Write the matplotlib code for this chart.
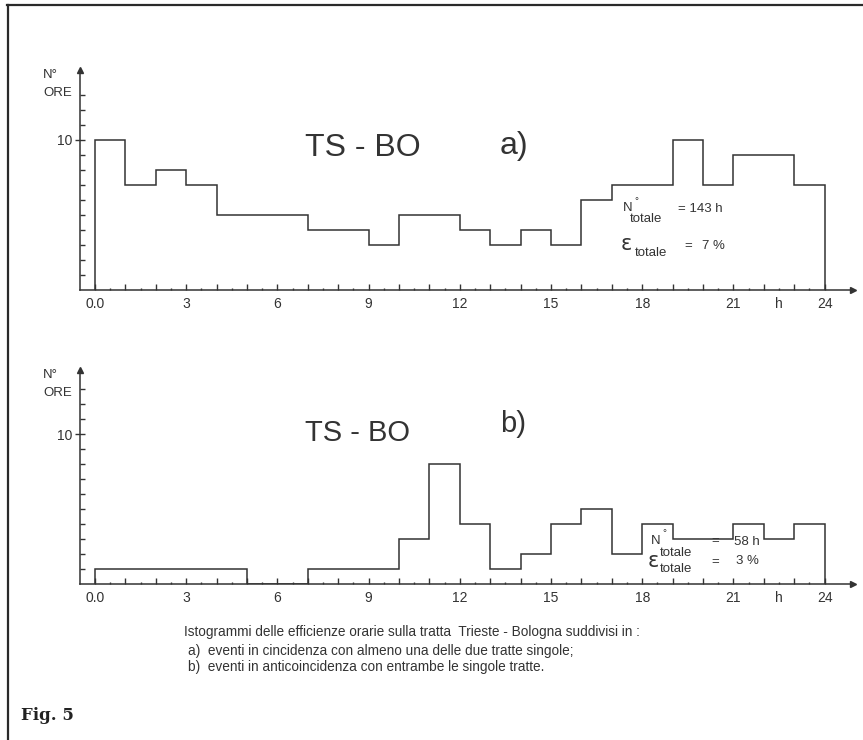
import matplotlib
matplotlib.use("Agg")
import matplotlib.pyplot as plt
import numpy as np

# hourly bins 0..24
hour_edges = list(range(25))
hours_a = [10, 7, 8, 7, 5, 5, 5, 4, 4, 3, 5, 5,
           4, 3, 4, 3, 6, 7, 7, 10, 7, 9, 9, 7]
hours_b = [1, 1, 1, 1, 1, 0, 0, 1, 1, 1, 3, 8,
           4, 1, 2, 4, 5, 2, 4, 3, 3, 4, 3, 4]
xtick_labels = {0: "0.0", 3: "3", 6: "6", 9: "9", 12: "12",
                15: "15", 18: "18", 21: "21", 24: "24"}

W, H = 863, 740
INK = "#333333"
SANS = ["Liberation Sans", "DejaVu Sans"]
plt.rcParams["font.family"] = SANS

fig = plt.figure(figsize=(W / 100, H / 100), dpi=100)
fig.patch.set_facecolor("white")


def px_text(x, y, s, **kw):
    kw.setdefault("color", INK)
    kw.setdefault("va", "center")
    kw.setdefault("ha", "left")
    return fig.text(x / W, 1 - y / H, s, **kw)


def make_panel(top, bottom, values, letter, title_y, letter_y, title_fs):
    left_px, right_px = 80, 853
    x0_px, px_per_h = 95, 30.4
    ax = fig.add_axes([left_px / W, 1 - bottom / H,
                       (right_px - left_px) / W, (bottom - top) / H])
    ax.set_xlim((left_px - x0_px) / px_per_h, (right_px - x0_px) / px_per_h)
    ax.set_ylim(0, (bottom - top) / 15.0)
    ax.set_facecolor("none")

    ax.stairs(values, hour_edges, baseline=0, color=INK, lw=1.1)

    for s in ("top", "right"):
        ax.spines[s].set_visible(False)
    for s in ("left", "bottom"):
        ax.spines[s].set_color(INK)
        ax.spines[s].set_linewidth(1.1)
    # arrow heads on the axes
    ax.plot(1, 0, ">", color=INK, ms=5, transform=ax.get_yaxis_transform(), clip_on=False)
    ax.plot(0, 1, "^", color=INK, ms=5, transform=ax.transAxes, clip_on=False)

    ax.set_xticks(range(25))
    ax.set_xticklabels([xtick_labels.get(h, "") for h in range(25)])
    ax.set_xticks(np.arange(0.5, 24, 1), minor=True)
    ax.tick_params(axis="x", which="major", direction="in", length=4, width=1,
                   colors=INK, labelsize=10, pad=5)
    ax.tick_params(axis="x", which="minor", direction="in", length=1.5, width=1, colors=INK)

    ax.set_yticks([10])
    ax.set_yticklabels(["10"])
    ax.set_yticks([v for v in range(1, 14) if v != 10], minor=True)
    ax.tick_params(axis="y", which="major", direction="inout", length=7, width=1,
                   colors=INK, labelsize=10, pad=2)
    ax.tick_params(axis="y", which="minor", direction="in", length=3.6, width=1, colors=INK)

    # axis titles
    px_text(43, top + 5, "N°", fontsize=9.5)
    px_text(43, top + 23, "ORE", fontsize=9.5)
    px_text(775, bottom + 14, "h", fontsize=10)

    px_text(305, title_y, "TS - BO", fontsize=title_fs)
    px_text(500, letter_y, letter, fontsize=title_fs)
    return ax


make_panel(70, 290, hours_a, "a)", 148, 146, 23)
make_panel(370, 584, hours_b, "b)", 433, 424, 21)

# totals, panel a
px_text(623, 208, "N", fontsize=9.5)
px_text(634, 201, "°", fontsize=7)
px_text(630, 219, "totale", fontsize=9.5)
px_text(678, 209, "= 143 h", fontsize=9.5)
px_text(621, 244, "ε", fontsize=15, family=["DejaVu Sans"])
px_text(635, 253, "totale", fontsize=9.5)
px_text(684, 246, "=", fontsize=9.5)
px_text(702, 246, "7 %", fontsize=9.5)

# totals, panel b
px_text(651, 541, "N", fontsize=9.5)
px_text(662, 533, "°", fontsize=7)
px_text(660, 553, "totale", fontsize=9.5)
px_text(711, 541, "=", fontsize=9.5)
px_text(734, 542, "58 h", fontsize=9.5)
px_text(648, 561, "ε", fontsize=15, family=["DejaVu Sans"])
px_text(660, 569, "totale", fontsize=9.5)
px_text(711, 562, "=", fontsize=9.5)
px_text(736, 561, "3 %", fontsize=9.5)

# caption
px_text(184, 632, "Istogrammi delle efficienze orarie sulla tratta  Trieste - Bologna suddivisi in :",
        fontsize=9.8)
px_text(188, 651, "a)  eventi in cincidenza con almeno una delle due tratte singole;", fontsize=9.8)
px_text(188, 667, "b)  eventi in anticoincidenza con entrambe le singole tratte.", fontsize=9.8)
px_text(21, 715, "Fig. 5", fontsize=12, weight="bold",
        family=["DejaVu Serif"], color="#222222")

# page frame (top and left edges of the scan)
fig.add_artist(plt.Line2D([7 / W, 1], [1 - 5 / H, 1 - 5 / H], color="#2a2a2a", lw=1.6))
fig.add_artist(plt.Line2D([8 / W, 8 / W], [0, 1 - 5 / H], color="#2a2a2a", lw=1.6))

fig.savefig("out.png", dpi=100, facecolor="white")
plt.close(fig)
